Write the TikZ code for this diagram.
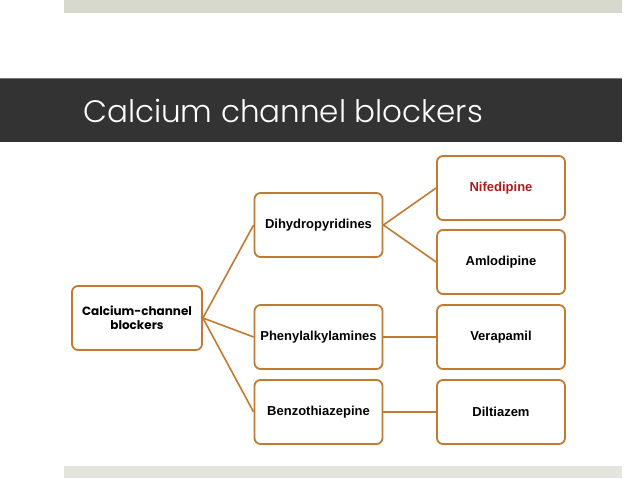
\documentclass[tikz,border=0pt]{standalone}
\usepackage{fontspec}
\setmainfont{Liberation Sans}
\newfontfamily\titlefont{Poppins}[UprightFont=* Light]
\newfontfamily\rootfont{Poppins}
\definecolor{edgeor}{RGB}{193,122,50}
\definecolor{topbar}{RGB}{215,217,206}
\definecolor{botbar}{RGB}{228,229,222}
\definecolor{band}{RGB}{51,51,51}
\definecolor{bandline}{RGB}{120,120,120}
\definecolor{redtxt}{RGB}{176,26,26}
\begin{document}
\begin{tikzpicture}[x=1pt,y=-1pt,
  box/.style={draw=edgeor,line width=1.8pt,rounded corners=6pt,fill=white,
    minimum width=128pt,minimum height=64pt,inner sep=2pt,align=center,
    font=\fontsize{13}{15}\selectfont\bfseries},
  wire/.style={draw=edgeor,line width=1.6pt}]
\useasboundingbox (0,0) rectangle (638,479);
\fill[white] (0,0) rectangle (638,479);
\fill[topbar] (64,0) rectangle (622,13);
\fill[botbar] (64,466) rectangle (622,478);
\fill[band] (0,78) rectangle (622,142);
\draw[bandline,line width=0.8pt] (0,78.4) -- (622,78.4);
\node[anchor=west,text=white,inner sep=0pt,font=\titlefont\fontsize{31}{36}\selectfont] (title) at (83,111) {Calcium channel blockers};
\node[box,minimum width=130pt,font=\rootfont\fontsize{12}{14}\selectfont\bfseries] (root) at (137,318) {Calcium-channel\\blockers};
\node[box] (dhp) at (318.5,225) {Dihydropyridines};
\node[box] (phe) at (318.5,337) {Phenylalkylamines};
\node[box] (ben) at (318.5,412) {Benzothiazepine};
\node[box,text=redtxt] (nif) at (501,188) {Nifedipine};
\node[box] (aml) at (501,262) {Amlodipine};
\node[box] (ver) at (501,337) {Verapamil};
\node[box] (dil) at (501,412) {Diltiazem};
\draw[wire] (root.east) -- (dhp.west);
\draw[wire] (root.east) -- (phe.west);
\draw[wire] (root.east) -- (ben.west);
\draw[wire] (dhp.east) -- (nif.west);
\draw[wire] (dhp.east) -- (aml.west);
\draw[wire] (phe.east) -- (ver.west);
\draw[wire] (ben.east) -- (dil.west);
\end{tikzpicture}
\end{document}
